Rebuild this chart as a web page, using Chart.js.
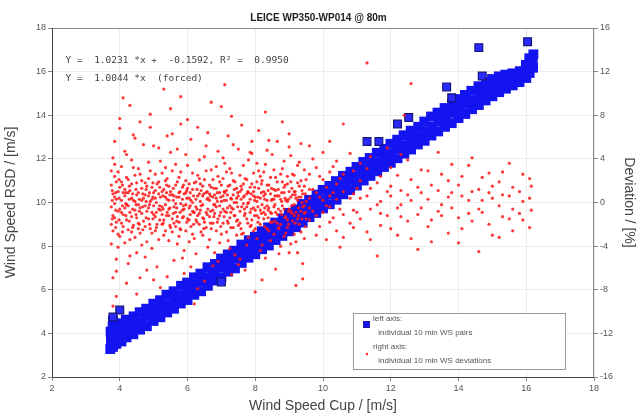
<!DOCTYPE html>
<html>
<head>
<meta charset="utf-8">
<script src="https://cdn.jsdelivr.net/npm/chart.js@4.4.1/dist/chart.umd.min.js"></script>
<style>
  html, body { margin: 0; padding: 0; background: #fff; }
  #wrap { width: 637px; height: 417px; }
</style>
</head>
<body>
<div id="wrap"><canvas id="chart"></canvas></div>
<script>
// LEICE WP350-WP014 @ 80m : RSD vs cup, 10 min pairs (left) + deviations (right)

const TITLE = 'LEICE WP350-WP014 @ 80m';
const X_TITLE = 'Wind Speed Cup / [m/s]';
const Y_TITLE = 'Wind Speed RSD / [m/s]';
const Y2_TITLE = 'Deviation / [%]';
const FIT_LINES = [
  'Y =  1.0231 *x +  -0.1592, R\u00b2 =  0.9950',
  'Y =  1.0044 *x  (forced)',
];
const LEGEND_LINES = [
  'left axis:',
  ' individual 10 min WS pairs',
  'right axis:',
  ' individual 10 min WS deviations',
];

// x ticks 2..18, left 2..18, right -16..16
const X_RANGE = [2, 18];
const Y_RANGE = [2, 18];
const Y2_RANGE = [-16, 16];

// left axis: [cup, rsd] 10 min pairs (main band)
const wsPairs = [
  [3.72,3.28],[3.74,3.7],[3.73,4.08],
  [3.8,3.38],[3.81,3.84],[3.79,4.31],[3.8,4.6],
  [3.9,3.52],[3.91,3.96],[3.88,4.42],
  [4.05,3.63],[4.03,4.07],[4.06,4.46],
  [4.2,3.82],[4.21,4.19],[4.18,4.63],
  [4.4,3.96],[4.39,4.37],[4.41,4.78],
  [4.6,4.17],[4.62,4.52],[4.59,4.97],
  [4.8,4.33],[4.81,4.77],[4.78,5.13],
  [5.0,4.57],[5.02,4.93],[4.99,5.36],
  [5.2,4.74],[5.21,5.17],[5.19,5.52],
  [5.4,4.96],[5.41,5.33],[5.38,5.77],
  [5.6,5.13],[5.62,5.57],[5.59,5.93],
  [5.8,5.37],[5.79,5.74],[5.81,6.18],
  [6.0,5.53],[6.02,5.97],[5.99,6.33],
  [6.2,5.77],[6.21,6.13],[6.19,6.57],
  [6.4,5.93],[6.41,6.37],[6.38,6.74],
  [6.6,6.18],[6.62,6.58],[6.59,7.03],
  [6.8,6.42],[6.79,6.81],[6.81,7.18],
  [7.0,6.57],[7.02,7.02],[6.99,7.43],
  [7.2,6.83],[7.21,7.18],[7.19,7.62],
  [7.4,6.98],[7.41,7.42],[7.38,7.79],
  [7.6,7.23],[7.62,7.66],[7.59,8.07],
  [7.8,7.47],[7.79,7.83],[7.81,8.27],
  [8.0,7.63],[8.02,8.06],[7.99,8.43],
  [8.2,7.86],[8.21,8.24],[8.19,8.68],
  [8.4,8.03],[8.41,8.47],[8.38,8.86],
  [8.6,8.28],[8.62,8.69],[8.59,9.08],
  [8.8,8.47],[8.79,8.91],[8.81,9.27],
  [9.0,8.68],[9.02,9.08],[8.99,9.52],
  [9.2,8.87],[9.21,9.31],[9.19,9.68],
  [9.4,9.08],[9.41,9.49],[9.38,9.93],
  [9.6,9.33],[9.62,9.74],[9.59,10.12],
  [9.8,9.52],[9.79,9.97],[9.81,10.36],
  [10.0,9.73],[10.02,10.14],[9.99,10.58],
  [10.2,9.92],[10.21,10.37],[10.19,10.76],
  [10.4,10.13],[10.41,10.54],[10.38,10.98],
  [10.6,10.38],[10.62,10.79],[10.59,11.22],
  [10.8,10.57],[10.79,11.02],[10.81,11.41],
  [11.0,10.78],[11.02,11.19],[10.99,11.63],
  [11.2,11.01],[11.21,11.44],[11.19,11.86],
  [11.4,11.22],[11.41,11.66],[11.38,12.04],
  [11.6,11.43],[11.62,11.84],[11.59,12.28],
  [11.8,11.63],[11.79,12.07],[11.81,12.46],
  [12.0,11.82],[12.02,12.24],[11.99,12.69],
  [12.2,12.03],[12.21,12.47],[12.19,12.88],
  [12.4,12.24],[12.41,12.63],[12.38,13.08],
  [12.6,12.43],[12.62,12.86],[12.59,13.29],
  [12.8,12.66],[12.79,13.04],[12.81,13.47],
  [13.0,12.83],[13.02,13.27],[12.99,13.71],
  [13.2,13.07],[13.21,13.48],[13.19,13.94],
  [13.4,13.26],[13.41,13.71],[13.38,14.12],
  [13.6,13.47],[13.62,13.88],[13.59,14.33],
  [13.8,13.64],[13.79,14.11],[13.81,14.52],
  [14.0,13.87],[14.02,14.29],[13.99,14.74],
  [14.2,14.06],[14.21,14.52],[14.19,14.93],
  [14.4,14.28],[14.41,14.68],[14.38,15.12],
  [14.6,14.47],[14.62,14.91],[14.59,15.33],
  [14.8,14.68],[14.79,15.08],[14.81,15.52],
  [15.0,14.87],[15.02,15.29],[14.99,15.66],
  [15.2,15.06],[15.21,15.47],[15.19,15.78],
  [15.4,15.22],[15.41,15.58],[15.38,15.86],
  [15.6,15.37],[15.62,15.69],[15.59,15.92],
  [15.8,15.52],[15.79,15.83],[15.81,16.02],
  [16.0,15.71],[16.02,16.08],[15.99,16.31],
  [16.1,15.94],[16.11,16.32],[16.09,16.61],
  [16.2,16.18],[16.19,16.52],[16.21,16.79],
];

// left axis: stray pairs off the band
const wsStray = [
  [14.6,17.1],[16.04,17.37],[13.65,15.3],[12.53,13.9],[12.2,13.6],
  [11.3,12.8],[11.65,12.8],[14.7,15.8],[13.8,14.8],
  [7.0,6.35],[4.0,5.07],[3.8,4.75],
];

// right axis: [cup, deviation %]
const deviations = [
  [3.8,-1.2],[3.8,0.8],[3.8,-2.6],[3.8,4.1],
  [3.9,0.3],[3.9,-1.8],[3.9,1.9],[3.9,-5.2],
  [4.0,-0.6],[4.0,1.4],[4.0,-3.1],[4.0,6.8],
  [4.1,0.9],[4.1,-1.1],[4.1,-2.2],
  [4.2,-0.2],[4.2,2.3],[4.2,-1.6],[4.2,-7.4],
  [4.3,1.1],[4.3,-0.9],[4.3,-3.4],
  [4.4,0.2],[4.4,-2.1],[4.4,3.2],
  [4.5,-1.4],[4.5,0.7],[4.5,1.8],[4.5,-4.6],
  [4.6,-0.5],[4.6,2.6],[4.6,-2.8],
  [4.7,0.4],[4.7,-1.7],[4.7,5.3],
  [4.8,-0.8],[4.8,1.5],[4.8,-3.6],
  [4.9,0.1],[4.9,-2.4],[4.9,2.9],[4.9,8.1],
  [5.0,-1.1],[5.0,0.9],[5.0,-0.3],
  [5.1,1.7],[5.1,-2.0],[5.1,-5.9],
  [5.2,-0.7],[5.2,0.5],[5.2,3.8],
  [5.3,-1.6],[5.3,1.2],[5.3,-3.0],
  [5.4,0.3],[5.4,-0.9],[5.4,2.2],[5.4,-6.8],
  [5.5,-2.3],[5.5,1.0],[5.5,4.6],
  [5.6,-0.4],[5.6,0.6],[5.6,-1.9],
  [5.7,1.9],[5.7,-1.3],[5.7,-3.8],
  [5.8,-0.1],[5.8,2.8],[5.8,-2.5],[5.8,7.2],
  [5.9,0.8],[5.9,-0.6],[5.9,-4.4],
  [6.0,-1.5],[6.0,1.3],[6.0,3.4],
  [6.1,0.2],[6.1,-2.2],[6.1,5.8],
  [6.2,-0.9],[6.2,1.8],[6.2,-3.3],
  [6.3,0.6],[6.3,-1.2],[6.3,2.5],[6.3,-7.9],
  [6.4,-0.3],[6.4,1.1],[6.4,-2.7],
  [6.5,2.1],[6.5,-1.8],[6.5,4.2],
  [6.6,-0.6],[6.6,0.4],[6.6,-4.1],
  [6.7,1.4],[6.7,-2.4],[6.7,3.0],[6.7,9.2],
  [6.8,-1.0],[6.8,0.7],[6.8,-0.2],
  [6.9,2.4],[6.9,-1.5],[6.9,-5.4],
  [7.0,0.1],[7.0,-2.9],[7.0,1.6],
  [7.1,-0.8],[7.1,0.9],[7.1,3.6],
  [7.2,-1.9],[7.2,1.5],[7.2,-3.5],[7.2,6.1],
  [7.3,0.3],[7.3,-0.5],[7.3,2.7],
  [7.4,-1.2],[7.4,1.9],[7.4,-4.8],
  [7.5,0.6],[7.5,-2.1],[7.5,4.9],
  [7.6,-0.4],[7.6,1.2],[7.6,-2.9],
  [7.7,2.2],[7.7,-1.0],[7.7,-6.2],
  [7.8,0.0],[7.8,0.9],[7.8,-3.2],[7.8,3.9],
  [7.9,-1.6],[7.9,1.7],[7.9,5.6],
  [8.0,-0.7],[8.0,0.5],[8.0,-2.4],
  [8.1,1.3],[8.1,-1.4],[8.1,2.9],
  [8.2,-0.2],[8.2,2.0],[8.2,-3.9],[8.2,-7.1],
  [8.3,0.8],[8.3,-1.1],[8.3,3.5],
  [8.4,-0.5],[8.4,1.6],[8.4,-2.6],
  [8.5,0.3],[8.5,-1.8],[8.5,4.4],
  [8.6,-0.9],[8.6,1.1],[8.6,2.3],
  [8.7,0.6],[8.7,-2.3],[8.7,-4.7],
  [8.8,-0.3],[8.8,1.9],[8.8,3.1],
  [8.9,0.2],[8.9,-1.3],[8.9,-2.8],
  [9.0,1.0],[9.0,-0.6],[9.0,5.1],
  [9.1,-1.7],[9.1,0.7],[9.1,2.6],
  [9.2,0.4],[9.2,-0.9],[9.2,-3.6],
  [9.3,1.5],[9.3,-2.0],[9.3,3.7],
  [9.4,-0.4],[9.4,0.8],[9.4,-5.6],
  [9.5,0.1],[9.5,2.1],[9.5,-1.5],
  [9.7,-0.8],[9.7,1.2],[9.7,4.0],
  [9.9,0.5],[9.9,-2.2],[9.9,2.4],
  [10.1,-0.3],[10.1,1.4],[10.1,-3.4],
  [10.3,0.9],[10.3,-1.4],[10.3,3.3],
  [10.5,-0.6],[10.5,2.2],[10.5,-4.1],
  [10.8,0.4],[10.8,-1.9],[10.8,4.5],
  [11.0,-0.9],[11.0,1.3],
  [11.3,0.6],[11.3,-2.7],[11.3,3.1],
  [11.6,-0.2],[11.6,1.8],[11.6,-4.9],
  [11.9,1.0],[11.9,-1.2],[11.9,5.0],
  [12.2,-0.5],[12.2,2.5],[12.2,-3.0],
  [12.5,0.7],[12.5,-1.7],[12.5,3.9],
  [12.8,-1.1],[12.8,1.4],[12.8,-4.3],
  [13.1,0.3],[13.1,2.9],[13.1,-2.2],
  [13.4,-0.8],[13.4,1.1],[13.4,4.6],
  [13.7,0.5],[13.7,-2.8],[13.7,2.0],
  [14.0,-1.4],[14.0,1.6],[14.0,-3.7],
  [14.3,0.2],[14.3,3.4],[14.3,-1.0],
  [14.6,-0.6],[14.6,1.2],[14.6,-4.5],
  [14.9,0.9],[14.9,-2.0],[14.9,2.7],
  [15.2,-0.3],[15.2,1.9],[15.2,-3.2],
  [15.5,0.6],[15.5,-1.5],[15.5,3.6],
  [15.8,-1.0],[15.8,1.0],
  [16.1,0.4],[16.1,-2.3],[16.1,2.2],
  // second pass through the dense core
  [3.75,-0.4],[3.75,1.6],[3.75,-2.0],[3.75,2.9],[3.75,-3.8],
  [3.85,0.5],[3.85,-1.4],[3.85,2.4],[3.85,-0.1],[3.85,3.5],
  [3.95,-2.9],[3.95,1.0],[3.95,-0.8],[3.95,2.8],[3.95,-4.1],
  [4.05,0.2],[4.05,-1.9],[4.05,3.3],[4.05,-0.9],[4.05,1.9],
  [4.15,-0.5],[4.15,1.2],[4.15,-3.7],[4.15,0.6],[4.15,4.7],
  [4.25,0.9],[4.25,-2.5],[4.25,-0.3],[4.25,2.1],[4.25,-5.6],
  [4.35,-1.3],[4.35,0.4],[4.35,1.7],[4.35,-2.7],[4.35,3.9],
  [4.45,0.1],[4.45,-0.7],[4.45,2.5],[4.45,-3.2],[4.45,5.9],
  [4.55,-1.9],[4.55,0.9],[4.55,-0.2],[4.55,3.1],[4.55,-2.4],
  [4.65,1.3],[4.65,-1.0],[4.65,0.2],[4.65,-3.9],[4.65,2.0],
  [4.75,-0.3],[4.75,1.8],[4.75,-2.2],[4.75,0.7],[4.75,-5.0],
  [4.85,0.6],[4.85,-1.5],[4.85,2.2],[4.85,-0.5],[4.85,3.7],
  [4.95,-2.8],[4.95,1.4],[4.95,-0.9],[4.95,0.3],[4.95,-4.2],
  [5.05,0.4],[5.05,-1.3],[5.05,2.6],[5.05,-2.6],[5.05,1.1],
  [5.15,-0.6],[5.15,0.8],[5.15,-3.4],[5.15,1.9],[5.15,5.0],
  [5.25,1.0],[5.25,-2.0],[5.25,-0.4],[5.25,2.7],[5.25,-1.1],
  [5.35,-0.2],[5.35,2.0],[5.35,-2.6],[5.35,0.5],[5.35,3.2],
  [5.45,-1.2],[5.45,0.2],[5.45,1.5],[5.45,-3.5],[5.45,-0.6],
  [5.55,0.7],[5.55,-1.5],[5.55,2.9],[5.55,-2.7],[5.55,6.3],
  [5.65,-0.9],[5.65,1.6],[5.65,-0.1],[5.65,-2.2],[5.65,3.5],
  [5.75,0.5],[5.75,-1.8],[5.75,2.3],[5.75,-3.1],[5.75,0.9],
  [5.85,-1.4],[5.85,0.3],[5.85,1.4],[5.85,-0.7],[5.85,-5.1],
  [5.95,0.9],[5.95,-2.6],[5.95,-0.2],[5.95,2.0],[5.95,4.4],
  [6.05,-0.5],[6.05,1.7],[6.05,-1.6],[6.05,0.4],[6.05,-3.6],
  [6.15,1.2],[6.15,-0.8],[6.15,2.7],[6.15,-2.9],[6.15,0.0],
  [6.25,-1.6],[6.25,0.3],[6.25,1.9],[6.25,-0.4],[6.25,-4.7],
  [6.35,0.8],[6.35,-2.0],[6.35,2.2],[6.35,-1.0],[6.35,3.9],
  [6.45,-0.2],[6.45,1.5],[6.45,-3.0],[6.45,0.6],[6.45,-1.4],
  [6.55,0.9],[6.55,-0.9],[6.55,2.9],[6.55,-2.3],[6.55,5.2],
  [6.65,-1.3],[6.65,0.2],[6.65,1.6],[6.65,-3.4],[6.65,0.8],
  [6.75,0.5],[6.75,-1.9],[6.75,2.1],[6.75,-0.7],[6.75,-5.8],
  [6.85,-0.4],[6.85,1.3],[6.85,-2.6],[6.85,3.3],[6.85,0.4],
  [6.95,0.9],[6.95,-1.2],[6.95,1.9],[6.95,-3.7],[6.95,-0.3],
  [7.05,-0.6],[7.05,2.2],[7.05,-1.9],[7.05,0.6],[7.05,4.1],
  [7.15,1.1],[7.15,-2.7],[7.15,0.2],[7.15,-0.9],[7.15,2.8],
  [7.25,-0.3],[7.25,1.6],[7.25,-1.4],[7.25,3.1],[7.25,-4.2],
  [7.35,0.7],[7.35,-2.3],[7.35,-0.6],[7.35,2.0],[7.35,5.3],
  [7.45,-1.7],[7.45,0.4],[7.45,1.3],[7.45,-3.0],[7.45,0.0],
  [7.55,1.0],[7.55,-0.8],[7.55,2.5],[7.55,-1.9],[7.55,-5.2],
  [7.65,-0.1],[7.65,1.7],[7.65,-2.8],[7.65,0.5],[7.65,3.4],
  [7.75,0.8],[7.75,-1.5],[7.75,2.1],[7.75,-0.4],[7.75,-3.9],
  [7.85,-0.9],[7.85,0.3],[7.85,1.4],[7.85,-2.2],[7.85,4.6],
  [7.95,0.6],[7.95,-2.6],[7.95,-0.5],[7.95,2.7],[7.95,1.0],
  [8.05,-1.2],[8.05,1.9],[8.05,0.1],[8.05,-3.3],[8.05,3.6],
  [8.15,0.4],[8.15,-0.7],[8.15,2.4],[8.15,-2.0],[8.15,-4.4],
  [8.25,-1.5],[8.25,1.0],[8.25,0.6],[8.25,2.8],[8.25,-0.9],
  [8.35,0.2],[8.35,-2.4],[8.35,1.6],[8.35,-0.3],[8.35,4.8],
  [8.45,-0.9],[8.45,2.3],[8.45,-1.8],[8.45,0.8],[8.45,-3.5],
  [8.55,1.2],[8.55,-0.4],[8.55,-2.9],[8.55,3.0],[8.55,0.3],
  [8.65,-1.1],[8.65,0.6],[8.65,1.9],[8.65,-1.9],[8.65,5.6],
  [8.75,0.3],[8.75,-2.0],[8.75,2.6],[8.75,-0.8],[8.75,-4.0],
  [8.85,-0.6],[8.85,1.4],[8.85,-3.1],[8.85,0.9],[8.85,3.8],
  [8.95,1.7],[8.95,-1.6],[8.95,0.1],[8.95,2.4],[8.95,-2.3],
  [9.05,-0.8],[9.05,0.5],[9.05,-3.8],[9.05,1.9],[9.05,4.3],
  [9.15,1.0],[9.15,-1.2],[9.15,2.5],[9.15,-0.2],[9.15,-2.9],
  [9.25,-1.5],[9.25,0.2],[9.25,1.8],[9.25,3.4],[9.25,-4.6],
  [9.35,0.5],[9.35,-0.8],[9.35,2.0],[9.35,-2.7],[9.35,5.4],
  [9.45,-1.0],[9.45,1.5],[9.45,-0.3],[9.45,3.0],[9.45,-3.3],
  [9.6,0.4],[9.6,-1.6],[9.6,2.6],[9.6,-0.5],[9.6,1.2],
  [9.8,-1.2],[9.8,0.9],[9.8,3.2],[9.8,-3.0],
  [10.0,0.2],[10.0,-0.9],[10.0,2.1],[10.0,4.6],
  [10.2,-1.8],[10.2,0.6],[10.2,2.8],[10.2,-0.4],
  [10.4,0.3],[10.4,-2.6],[10.4,1.7],[10.4,3.8],
  [10.6,-1.1],[10.6,1.0],[10.6,-3.2],[10.6,2.6],
  [10.9,0.8],[10.9,-0.7],[10.9,2.9],[10.9,-2.3],
  [11.1,-1.5],[11.1,0.4],[11.1,3.6],[11.1,2.0],
  [11.4,1.3],[11.4,-0.6],[11.4,-3.4],[11.4,4.2],
  [11.7,-1.0],[11.7,2.4],[11.7,0.1],[11.7,-2.1],
  [12.0,0.6],[12.0,-2.4],[12.0,3.2],[12.0,1.5],
  [12.3,-1.3],[12.3,1.1],[12.3,4.4],[12.3,-0.2],
  [12.6,0.2],[12.6,-3.3],[12.6,2.1],
  [12.9,-0.5],[12.9,3.0],[12.9,0.9],
  [13.2,1.6],[13.2,-1.6],[13.2,-3.6],
  [13.5,-0.2],[13.5,2.6],[13.5,-1.2],
  [13.8,0.9],[13.8,-0.5],[13.8,3.5],
  [14.1,-2.4],[14.1,0.6],[14.1,2.4],
  [14.4,1.0],[14.4,-1.7],[14.4,4.1],
  [14.7,-0.9],[14.7,2.3],[14.7,0.2],
  [15.0,0.4],[15.0,-3.0],[15.0,1.5],
  [15.3,-1.3],[15.3,2.8],[15.3,0.7],
  [15.6,1.4],[15.6,-0.6],[15.6,-2.6],
  [15.9,0.1],[15.9,2.6],[15.9,-1.6],
  [16.15,-0.7],[16.15,1.5],
  // third pass, centre of the core
  [3.78,-1.5],[3.78,0.2],[3.78,1.1],[3.88,-0.7],[3.88,-2.3],[3.88,0.9],
  [3.98,0.4],[3.98,-1.6],[3.98,2.1],[4.08,-0.3],[4.08,1.6],[4.08,-2.7],
  [4.18,-1.2],[4.18,0.9],[4.18,-0.1],[4.28,0.3],[4.28,-1.7],[4.28,1.5],
  [4.38,-0.6],[4.38,-2.3],[4.38,0.8],[4.48,1.2],[4.48,-1.1],[4.48,-0.2],
  [4.58,-0.8],[4.58,0.3],[4.58,-2.0],[4.68,0.8],[4.68,-0.4],[4.68,-2.5],
  [4.78,-1.4],[4.78,0.1],[4.78,1.2],[4.88,-0.2],[4.88,-2.0],[4.88,0.9],
  [4.98,0.5],[4.98,-1.5],[4.98,1.8],[5.08,-0.9],[5.08,0.0],[5.08,-2.3],
  [5.18,1.4],[5.18,-0.3],[5.18,-1.6],[5.28,-1.9],[5.28,0.6],[5.28,-0.6],
  [5.38,0.9],[5.38,-1.2],[5.38,1.6],[5.48,-0.5],[5.48,0.7],[5.48,-2.1],
  [5.58,0.2],[5.58,-1.0],[5.58,1.3],[5.68,-1.7],[5.68,0.5],[5.68,-0.5],
  [5.78,1.0],[5.78,-0.9],[5.78,-2.4],[5.88,-0.3],[5.88,1.6],[5.88,-1.3],
  [5.98,0.4],[5.98,-1.8],[5.98,1.1],[6.08,-1.1],[6.08,0.9],[6.08,-0.3],
  [6.18,0.6],[6.18,-2.0],[6.18,-0.9],[6.28,-0.6],[6.28,1.2],[6.28,-1.8],
  [6.38,0.1],[6.38,-0.7],[6.38,1.7],[6.48,-1.5],[6.48,0.8],[6.48,-2.4],
  [6.58,0.3],[6.58,-1.1],[6.58,1.0],[6.68,-0.8],[6.68,0.6],[6.68,-1.9],
  [6.78,1.3],[6.78,-0.2],[6.78,-1.3],[6.88,-1.8],[6.88,0.1],[6.88,0.9],
  [6.98,0.5],[6.98,-0.9],[6.98,-2.2],[7.08,-1.3],[7.08,1.0],[7.08,0.2],
  [7.18,0.7],[7.18,-1.7],[7.18,-0.5],[7.28,-0.9],[7.28,0.4],[7.28,-2.3],
  [7.38,1.2],[7.38,-1.2],[7.38,0.0],[7.48,-0.4],[7.48,0.9],[7.48,-1.6],
  [7.58,0.3],[7.58,-2.4],[7.58,1.5],[7.68,-1.2],[7.68,0.6],[7.68,-0.6],
  [7.78,1.0],[7.78,-1.9],[7.78,-0.1],[7.88,-0.6],[7.88,0.8],[7.88,-2.1],
  [7.98,0.2],[7.98,-1.2],[7.98,1.4],[8.08,-1.8],[8.08,0.5],[8.08,-0.4],
  [8.18,0.9],[8.18,-1.0],[8.18,1.7],[8.28,-0.5],[8.28,-2.2],[8.28,0.3],
  [8.38,1.1],[8.38,-1.4],[8.38,-0.7],[8.48,-1.0],[8.48,0.2],[8.48,1.3],
  [8.58,0.6],[8.58,-1.7],[8.58,-0.2],[8.68,-0.6],[8.68,1.2],[8.68,-2.4],
  [8.78,0.9],[8.78,-1.1],[8.78,0.1],[8.88,-1.4],[8.88,0.4],[8.88,1.6],
  [8.98,0.3],[8.98,-0.8],[8.98,-2.0],[9.08,-1.0],[9.08,1.3],[9.08,-0.3],
  [9.18,0.7],[9.18,-1.9],[9.18,1.0],[9.28,-0.5],[9.28,0.5],[9.28,-1.2],
  [9.38,1.1],[9.38,-1.5],[9.38,0.0],[9.48,-0.9],[9.48,0.8],[9.48,-2.2],
  // sparse fringe and outliers
  [4.0,7.7],[4.4,6.2],[4.9,6.9],[5.5,8.6],[6.0,7.6],[6.6,6.4],[7.0,8.8],
  [7.6,7.1],[8.1,6.6],[8.8,7.4],[3.9,-6.3],[4.6,-6.9],[5.2,-7.8],[5.9,-6.5],
  [6.5,-7.2],[7.3,-6.6],[8.0,-8.2],[8.6,-6.1],[9.4,-7.0],[4.3,8.9],[5.8,9.7],
  [3.8,-9.5],[4.1,9.6],[5.3,10.4],[3.9,-8.6],[6.2,-9.3],[8.3,8.3],[7.1,10.8],
  [10.6,7.2],[12.4,8.0],[9.2,-7.6],[11.3,12.8],[12.6,10.9],
  [3.85,5.6],[4.2,4.4],[4.6,7.4],[5.0,5.2],[5.4,6.1],[5.7,4.9],[6.3,6.9],
  [6.9,4.7],[7.3,7.9],[7.9,4.5],[8.4,5.7],[9.0,6.3],[9.6,5.2],[10.2,5.6],
  [4.3,-4.9],[4.8,-6.2],[5.6,-5.3],[6.1,-5.9],[6.8,-4.6],[7.5,-5.7],[8.3,-5.1],
  [9.0,-4.6],[3.8,-6.9],[4.5,-8.4],[5.0,-7.1],
];

const toXY = (arr) => arr.map(([x, y]) => ({ x, y }));

const FONT = "'Liberation Sans', Arial, sans-serif";
const TICK_COLOR = '#555';
const GRID_COLOR = '#ececec';
const BLUE = '#1414f0';

// frame, fit text and in-plot legend (MATLAB style)
const decorPlugin = {
  id: 'decor',
  afterDraw(chart) {
    const { ctx, chartArea: a, scales } = chart;
    ctx.save();
    // box
    ctx.strokeStyle = '#8a8a8a';
    ctx.lineWidth = 1;
    ctx.strokeRect(a.left + 0.5, a.top + 0.5, a.right - a.left - 1, a.bottom - a.top);
    ctx.strokeStyle = '#444';
    ctx.beginPath();
    ctx.moveTo(a.left + 0.5, a.top);
    ctx.lineTo(a.left + 0.5, a.bottom + 0.5);
    ctx.lineTo(a.right, a.bottom + 0.5);
    ctx.stroke();

    // fit text
    ctx.fillStyle = '#444';
    ctx.font = "9.5px 'DejaVu Sans Mono', monospace";
    ctx.textBaseline = 'middle';
    ctx.textAlign = 'left';
    const tx = scales.x.getPixelForValue(2.4);
    ctx.fillText(FIT_LINES[0], tx, scales.y.getPixelForValue(16.5));
    ctx.fillText(FIT_LINES[1], tx, scales.y.getPixelForValue(15.7));

    // legend box
    const bx = a.right - 241, by = a.bottom - 64, bw = 212, bh = 56;
    ctx.fillStyle = '#fff';
    ctx.fillRect(bx, by, bw, bh);
    ctx.strokeStyle = '#9a9a9a';
    ctx.strokeRect(bx + 0.5, by + 0.5, bw, bh);
    ctx.fillStyle = BLUE;
    ctx.strokeStyle = '#1a1a9a';
    ctx.fillRect(bx + 10, by + 8, 7, 7);
    ctx.strokeRect(bx + 10.5, by + 8.5, 6, 6);
    ctx.fillStyle = '#ff2020';
    ctx.beginPath();
    ctx.arc(bx + 14, by + 41, 1.2, 0, Math.PI * 2);
    ctx.fill();
    ctx.fillStyle = '#555';
    ctx.font = '8px ' + FONT;
    LEGEND_LINES.forEach((t, i) => {
      ctx.fillText(t, bx + 20 + (i % 2 ? 3 : 0), by + 6 + i * 14);
    });
    ctx.restore();
  },
};

new Chart(document.getElementById('chart'), {
  type: 'scatter',
  data: {
    datasets: [
      {
        label: 'individual 10 min WS deviations',
        data: toXY(deviations),
        yAxisID: 'y2',
        pointStyle: 'circle',
        pointRadius: 1.6,
        borderWidth: 0,
        backgroundColor: 'rgba(255,22,22,0.85)',
      },
      {
        label: 'individual 10 min WS pairs (stray)',
        data: toXY(wsStray),
        yAxisID: 'y',
        pointStyle: 'rect',
        pointRadius: 5.5,
        borderWidth: 1.2,
        backgroundColor: '#2a2aff',
        borderColor: '#16167a',
      },
      {
        label: 'individual 10 min WS pairs',
        data: toXY(wsPairs),
        yAxisID: 'y',
        pointStyle: 'rect',
        pointRadius: 7,
        borderWidth: 0,
        backgroundColor: BLUE,
      },
    ],
  },
  options: {
    responsive: true,
    maintainAspectRatio: false,
    animation: false,
    layout: { padding: 0 },
    plugins: {
      legend: { display: false },
      tooltip: { enabled: false },
      title: {
        display: true,
        text: TITLE,
        color: '#222',
        font: { family: FONT, size: 10, weight: 'bold' },
        padding: { top: 12, bottom: 4 },
      },
    },
    scales: {
      x: {
        type: 'linear',
        min: X_RANGE[0], max: X_RANGE[1],
        afterFit: (s) => { s.height = 40; },
        grid: { color: GRID_COLOR, tickLength: 4, tickColor: '#888' },
        border: { display: false },
        ticks: { stepSize: 2, color: TICK_COLOR, font: { family: FONT, size: 9 }, padding: 2 },
        title: { display: true, text: X_TITLE, color: '#444', font: { family: FONT, size: 14 }, padding: { top: 0, bottom: 2 } },
      },
      y: {
        type: 'linear',
        position: 'left',
        min: Y_RANGE[0], max: Y_RANGE[1],
        afterFit: (s) => { s.width = 52; },
        grid: { color: GRID_COLOR, tickLength: 4, tickColor: '#888' },
        border: { display: false },
        ticks: { stepSize: 2, color: TICK_COLOR, font: { family: FONT, size: 9 }, padding: 2 },
        title: { display: true, text: Y_TITLE, color: '#444', font: { family: FONT, size: 14 }, padding: { top: 3, bottom: 0 } },
      },
      y2: {
        type: 'linear',
        position: 'right',
        min: Y2_RANGE[0], max: Y2_RANGE[1],
        afterFit: (s) => { s.width = 43; },
        grid: { drawOnChartArea: false, tickLength: 4, tickColor: '#888' },
        border: { display: false },
        ticks: { stepSize: 4, color: TICK_COLOR, font: { family: FONT, size: 9 }, padding: 2 },
        title: { display: true, text: Y2_TITLE, color: '#444', font: { family: FONT, size: 14 }, padding: { top: 0, bottom: 3 } },
      },
    },
  },
  plugins: [decorPlugin],
});
</script>
</body>
</html>
